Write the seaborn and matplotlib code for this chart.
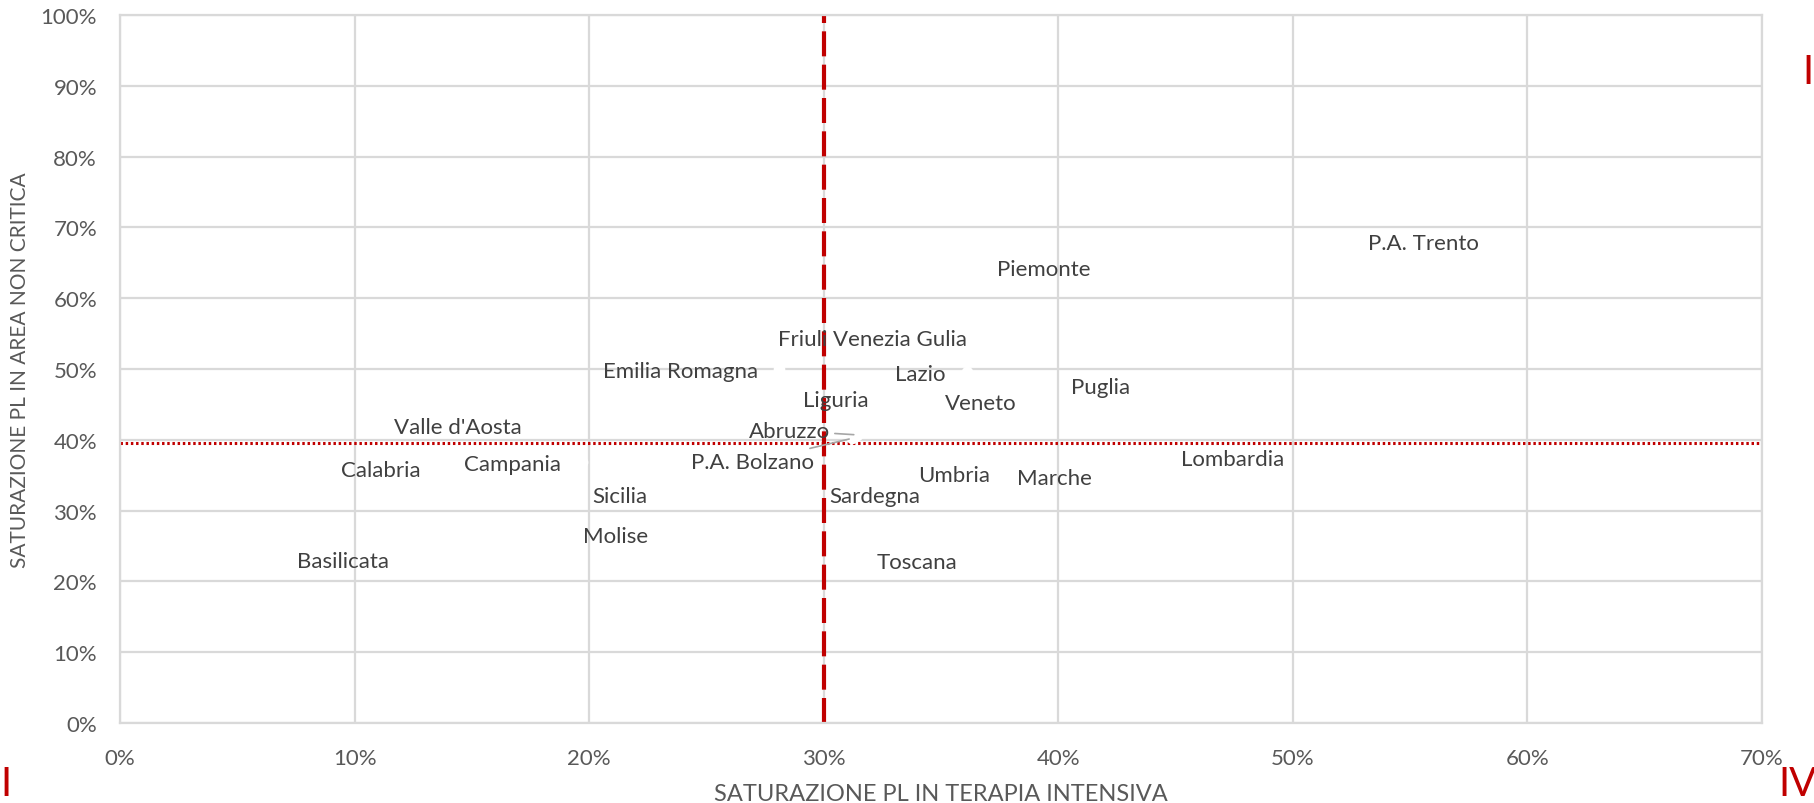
import pandas as pd
import numpy as np
import seaborn as sns
import matplotlib.pyplot as plt
from matplotlib.ticker import PercentFormatter

sns.set_theme(style="white")
plt.rcParams['font.family'] = ['Lato', 'DejaVu Sans']

regioni = ["P.A. Trento", "Piemonte", "Friuli Venezia Gulia", "Emilia Romagna", "Lazio",
           "Puglia", "Liguria", "Veneto", "Valle d'Aosta", "Abruzzo", "P.A. Bolzano",
           "Calabria", "Campania", "Lombardia", "Umbria", "Marche", "Sardegna",
           "Sicilia", "Molise", "Toscana", "Basilicata"]
sat_ti = [0.588, 0.4225, 0.370, 0.281, 0.361, 0.4395, 0.328, 0.391, 0.180, 0.314, 0.312,
          0.137, 0.197, 0.505, 0.380, 0.423, 0.350, 0.2336, 0.234, 0.366, 0.1236]
sat_nc = [0.681, 0.644, 0.545, 0.500, 0.496, 0.477, 0.459, 0.455, 0.421, 0.407, 0.402,
          0.360, 0.369, 0.376, 0.353, 0.349, 0.323, 0.323, 0.267, 0.230, 0.232]
soglia_ti = 0.30
soglia_nc = 0.395

df = pd.DataFrame({"regione": regioni, "ti": sat_ti, "nc": sat_nc})

grid_col = "#d9d9d9"
red = "#c00000"

fig = plt.figure(figsize=(18.14, 8.04), dpi=100)
ax = fig.add_axes([120 / 1814, 1 - 724 / 804, 1642 / 1814, 708 / 804])

# white markers, like the original (only the labels show)
sns.scatterplot(data=df, x="ti", y="nc", color="white", s=70, linewidth=0, ax=ax, zorder=3)

ax.set_xlim(0, 0.70)
ax.set_ylim(0, 1.0)
ax.set_xticks(np.arange(0, 0.71, 0.1))
ax.set_yticks(np.arange(0, 1.01, 0.1))
ax.xaxis.set_major_formatter(PercentFormatter(1.0, decimals=0))
ax.yaxis.set_major_formatter(PercentFormatter(1.0, decimals=0))
ax.grid(True, color=grid_col, linewidth=1.6)
ax.set_axisbelow(True)
for s in ax.spines.values():
    s.set_color(grid_col)
    s.set_linewidth(1.6)
ax.tick_params(axis="both", length=0, labelsize=16, labelcolor="#595959")
ax.tick_params(axis="y", pad=16.5)
ax.tick_params(axis="x", pad=18)

ax.axvline(soglia_ti, color=red, linestyle=(0, (6, 2)), linewidth=3, zorder=2)
ax.axhline(soglia_nc, color=red, linestyle=(0, (0.8, 0.9)), linewidth=2.2, zorder=2)

leader = {"Abruzzo": (-19, 3), "P.A. Bolzano": (-27, -17)}
for r, x, y in zip(regioni, sat_ti, sat_nc):
    if r in leader:
        ax.annotate(r, (x, y), xytext=leader[r], textcoords="offset points",
                    ha="right", va="center", fontsize=16, color="#404040", zorder=4,
                    arrowprops=dict(arrowstyle="-", color="#a6a6a6", lw=1.2,
                                    shrinkA=1, shrinkB=2))
    else:
        ax.annotate(r, (x, y), xytext=(-15, -1.5), textcoords="offset points",
                    ha="right", va="center", fontsize=16, color="#404040", zorder=4)

ax.set_xlabel("SATURAZIONE PL IN TERAPIA INTENSIVA", fontsize=17, color="#595959")
ax.set_ylabel("SATURAZIONE PL IN AREA NON CRITICA", fontsize=15, color="#595959")
ax.xaxis.set_label_coords(0.5, (724 - 795) / 708)
ax.xaxis.label.set_va("center")
ax.yaxis.set_label_coords((20 - 120) / 1642, 0.5)
ax.yaxis.label.set_va("center")

# quadrant markers at the figure edges
fig.text(1802 / 1814, 1 - 72 / 804, "I", color=red, fontsize=29, ha="left", va="center")
fig.text(0.0, 1 - 785 / 804, "I", color=red, fontsize=29, ha="left", va="center")
fig.text(1778 / 1814, 1 - 785 / 804, "IV", color=red, fontsize=29, ha="left", va="center")

fig.savefig("out.png", dpi=100)
